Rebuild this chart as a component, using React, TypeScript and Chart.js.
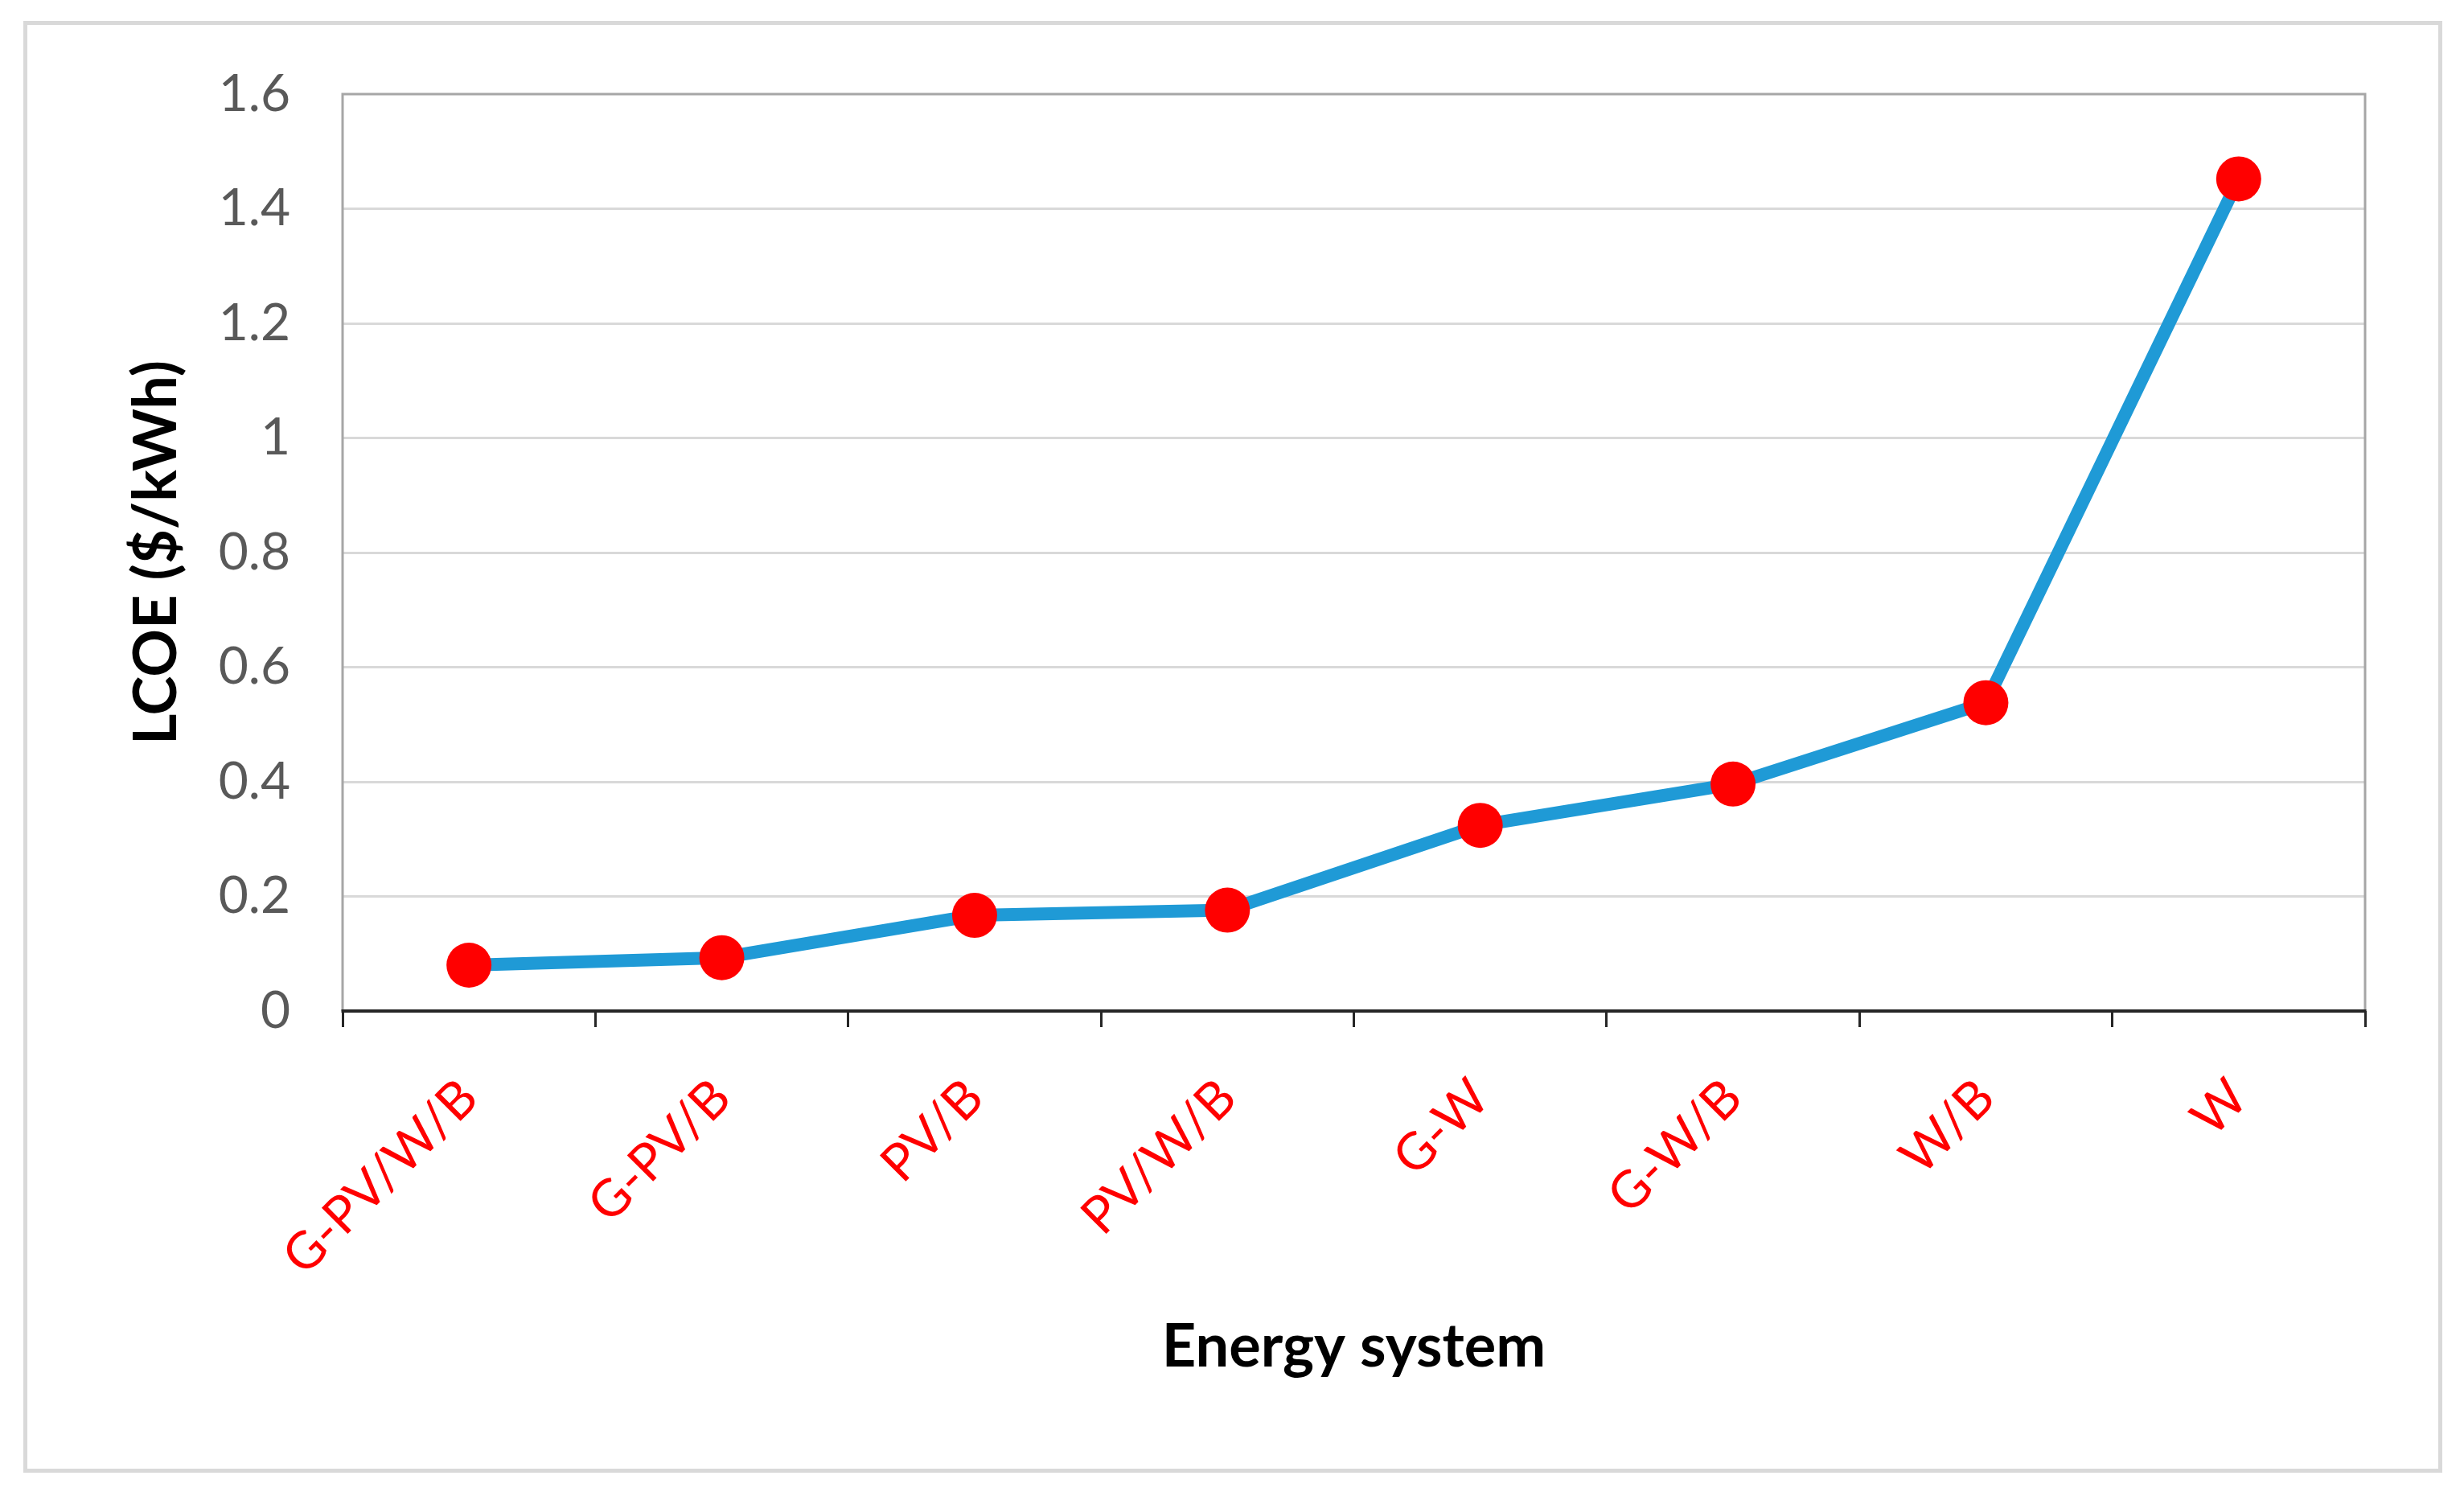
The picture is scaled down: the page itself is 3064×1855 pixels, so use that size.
import React, { useEffect, useRef } from 'react';
import { Chart, registerables } from 'chart.js';

Chart.register(...registerables);

const categories = ['G-PV/W/B', 'G-PV/B', 'PV/B', 'PV/W/B', 'G-W', 'G-W/B', 'W/B', 'W'];
const lcoeValues = [0.08, 0.093, 0.167, 0.176, 0.324, 0.396, 0.538, 1.452];
const yTickValues = [0, 0.2, 0.4, 0.6, 0.8, 1, 1.2, 1.4, 1.6];
const yTickLabels = ['0', '0.2', '0.4', '0.6', '0.8', '1', '1.2', '1.4', '1.6'];
const xTitle = 'Energy system';
const yTitle = 'LCOE ($/kWh)';

const FONT = 'Lato, "Open Sans", "Noto Sans", sans-serif';

const framePlugin = {
  id: 'framePlugin',
  beforeDraw(chart: any) {
    const { ctx, width, height } = chart;
    ctx.save();
    ctx.fillStyle = '#ffffff';
    ctx.fillRect(0, 0, width, height);
    ctx.strokeStyle = '#d9d9d9';
    ctx.lineWidth = 5;
    ctx.strokeRect(31.5, 28.5, 3003, 1800);
    ctx.restore();
  },
  beforeDatasetsDraw(chart: any) {
    const { ctx, chartArea } = chart;
    const { left, top, right, bottom } = chartArea;
    ctx.save();
    ctx.strokeStyle = '#a6a6a6';
    ctx.lineWidth = 3;
    ctx.beginPath();
    ctx.moveTo(left, bottom);
    ctx.lineTo(left, top);
    ctx.lineTo(right, top);
    ctx.lineTo(right, bottom);
    ctx.stroke();
    ctx.strokeStyle = '#262626';
    ctx.lineWidth = 4;
    ctx.beginPath();
    ctx.moveTo(left - 1.5, bottom);
    ctx.lineTo(right + 1.5, bottom);
    ctx.stroke();
    ctx.restore();
  },
};

export default function App() {
  const canvasRef = useRef<HTMLCanvasElement | null>(null);

  useEffect(() => {
    if (!canvasRef.current) return;
    const chart = new Chart(canvasRef.current, {
      type: 'line',
      data: {
        labels: categories,
        datasets: [
          {
            data: lcoeValues,
            borderColor: '#1f9ad6',
            borderWidth: 16,
            pointRadius: 28,
            pointHoverRadius: 28,
            pointBackgroundColor: '#ff0000',
            pointBorderWidth: 0,
            pointBorderColor: '#ff0000',
            tension: 0,
            fill: false,
          },
        ],
      },
      options: {
        responsive: false,
        animation: false,
        layout: { padding: { left: 0, top: 117, right: 123, bottom: 0 } },
        plugins: {
          legend: { display: false },
          tooltip: { enabled: false },
          title: { display: false },
        },
        scales: {
          x: {
            type: 'category',
            offset: true,
            border: { display: false },
            grid: {
              offset: true,
              drawOnChartArea: false,
              drawTicks: true,
              tickLength: 20,
              color: '#262626',
              lineWidth: 3,
            },
            ticks: {
              color: '#ff0000',
              font: { family: FONT, size: 64 },
              minRotation: 45,
              maxRotation: 45,
              autoSkip: false,
              padding: 50,
            },
            title: {
              display: true,
              text: xTitle,
              color: '#000000',
              font: { family: FONT, size: 74, weight: 'bold' },
              padding: { top: 0, bottom: 135 },
            },
            afterFit: (scale: any) => {
              scale.height = 598;
            },
          },
          y: {
            type: 'linear',
            min: 0,
            max: 1.6,
            border: { display: false },
            grid: {
              drawTicks: false,
              color: (c: any) => (c.tick && (c.tick.value === 0 || c.tick.value === 1.6) ? 'rgba(0,0,0,0)' : '#d9d9d9'),
              lineWidth: 3,
            },
            ticks: {
              color: '#595959',
              font: { family: FONT, size: 64 },
              padding: 65,
              callback: (v: any) => {
                const i = yTickValues.findIndex((t) => Math.abs(t - Number(v)) < 1e-6);
                return i >= 0 ? yTickLabels[i] : '';
              },
            },
            afterBuildTicks: (scale: any) => {
              scale.ticks = yTickValues.map((v) => ({ value: v }));
            },
            title: {
              display: true,
              text: yTitle,
              color: '#000000',
              font: { family: FONT, size: 74, weight: 'bold' },
              padding: { top: 151, bottom: 0 },
            },
            afterFit: (scale: any) => {
              scale.width = 426;
            },
          },
        },
      },
      plugins: [framePlugin],
    });
    return () => chart.destroy();
  }, []);

  return (
    <div style={{ position: 'fixed', left: 0, top: 0, width: 3064, height: 1855, background: '#fff' }}>
      <canvas ref={canvasRef} width={3064} height={1855} style={{ display: 'block', width: 3064, height: 1855 }} />
    </div>
  );
}
